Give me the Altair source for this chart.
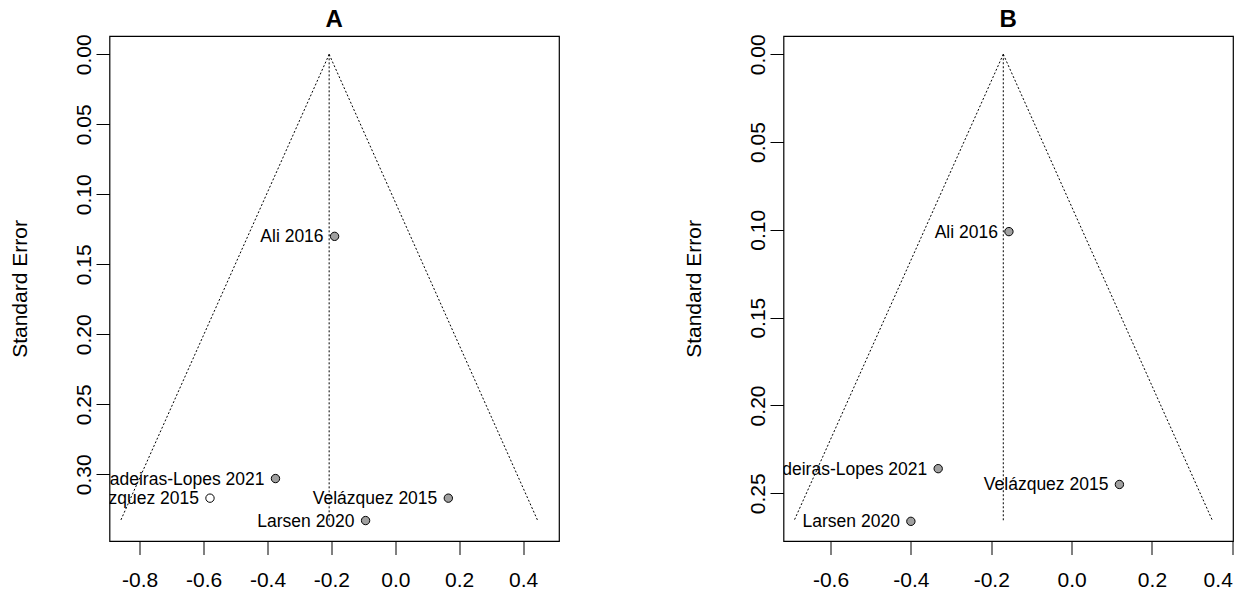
import altair as alt
import pandas as pd

# Panel A: observed studies plus one imputed (trim-and-fill) study
a_study = ["Ali 2016", "Madeiras-Lopes 2021", "Velázquez 2015", "Larsen 2020", "Velázquez 2015"]
a_est = [-0.190, -0.375, 0.166, -0.093, -0.580]
a_se = [0.130, 0.303, 0.317, 0.333, 0.317]
a_kind = ["observed", "observed", "observed", "observed", "imputed"]
a_center = -0.207
a_se_max = 0.333

# Panel B: observed studies
b_study = ["Ali 2016", "Madeiras-Lopes 2021", "Velázquez 2015", "Larsen 2020"]
b_est = [-0.156, -0.332, 0.119, -0.400]
b_se = [0.101, 0.236, 0.245, 0.266]
b_kind = ["observed", "observed", "observed", "observed"]
b_center = -0.170
b_se_max = 0.266

a_xticks = [-0.8, -0.6, -0.4, -0.2, 0.0, 0.2, 0.4]
a_yticks = [0.00, 0.05, 0.10, 0.15, 0.20, 0.25, 0.30]
b_xticks = [-0.6, -0.4, -0.2, 0.0, 0.2, 0.4]
b_yticks = [0.00, 0.05, 0.10, 0.15, 0.20, 0.25]

FONT = "Liberation Sans"
W, H = 449.5, 505


def funnel_lines(center, se_max):
    z = 1.96
    rows = []
    for name, x_end in [("lower", center - z * se_max),
                        ("upper", center + z * se_max),
                        ("center", center)]:
        rows.append({"line": name, "x": center, "y": 0.0})
        rows.append({"line": name, "x": x_end, "y": se_max})
    return pd.DataFrame(rows)


def panel(title, study, est, se, kind, center, se_max, xdom, ydom, xticks, yticks):
    pts = pd.DataFrame({"study": study, "est": est, "se": se, "kind": kind})
    xs = alt.Scale(domain=xdom, nice=False, zero=False)
    ys = alt.Scale(domain=ydom, nice=False, zero=False, reverse=True)

    x_axis = alt.Axis(values=xticks, title=None,
                      labelExpr="replace(format(datum.value, '.1f'), '\u2212', '-')")
    y_axis = alt.Axis(values=yticks, title="Standard Error",
                      labelExpr="format(datum.value, '.2f')",
                      labelAngle=270, labelAlign="center", labelBaseline="alphabetic",
                      labelPadding=6,
                      titleAngle=270, titleAlign="center", titleBaseline="alphabetic",
                      titleX=-83.5, titleY=H / 2)

    lines = alt.Chart(funnel_lines(center, se_max)).mark_line(
        color="black", strokeWidth=1, strokeDash=[2, 2], clip=True
    ).encode(
        x=alt.X("x:Q", scale=xs, axis=x_axis),
        y=alt.Y("y:Q", scale=ys, axis=y_axis),
        detail="line:N",
        order="y:Q",
    )

    dots = alt.Chart(pts).mark_point(
        filled=False, shape="circle", size=70, stroke="black", strokeWidth=1, opacity=1, clip=True
    ).encode(
        x=alt.X("est:Q", scale=xs),
        y=alt.Y("se:Q", scale=ys),
        fill=alt.Fill("kind:N", scale=alt.Scale(domain=["observed", "imputed"],
                                                range=["#a0a0a0", "white"]), legend=None),
    )

    labels = alt.Chart(pts).mark_text(
        align="right", baseline="middle", dx=-11, dy=1, font=FONT, fontSize=17.5,
        color="black", clip=True
    ).encode(
        x=alt.X("est:Q", scale=xs),
        y=alt.Y("se:Q", scale=ys),
        text="study:N",
    )

    # panel letter centred above the plot frame
    heading = alt.Chart(pd.DataFrame({"label": [title]})).mark_text(
        font=FONT, fontSize=24, fontWeight="bold", color="black",
        align="center", baseline="alphabetic"
    ).encode(
        x=alt.value(W / 2), y=alt.value(-9), text="label:N"
    )

    return alt.layer(lines, dots, labels, heading).properties(width=W, height=H)


chart_a = panel("A", a_study, a_est, a_se, a_kind, a_center, a_se_max,
                [-0.8945, 0.5124], [-0.0131, 0.3476], a_xticks, a_yticks)
chart_b = panel("B", b_study, b_est, b_se, b_kind, b_center, b_se_max,
                [-0.717, 0.4017], [-0.0104, 0.2772], b_xticks, b_yticks)

chart = alt.hconcat(chart_a, chart_b, spacing=224, bounds="flush").properties(
    padding={"left": 7.5, "top": 7, "right": 5, "bottom": 5}
).configure_view(
    stroke="black", strokeWidth=1.2
).configure_axis(
    domain=False, grid=False, tickColor="black", tickSize=13.5, tickWidth=1,
    labelFont=FONT, labelFontSize=21, labelColor="black",
    titleFont=FONT, titleFontSize=21, titleFontWeight="normal", titleColor="black",
).configure_axisX(labelPadding=15)

chart.save("out.html", embed_options={"renderer": "svg", "actions": False})
